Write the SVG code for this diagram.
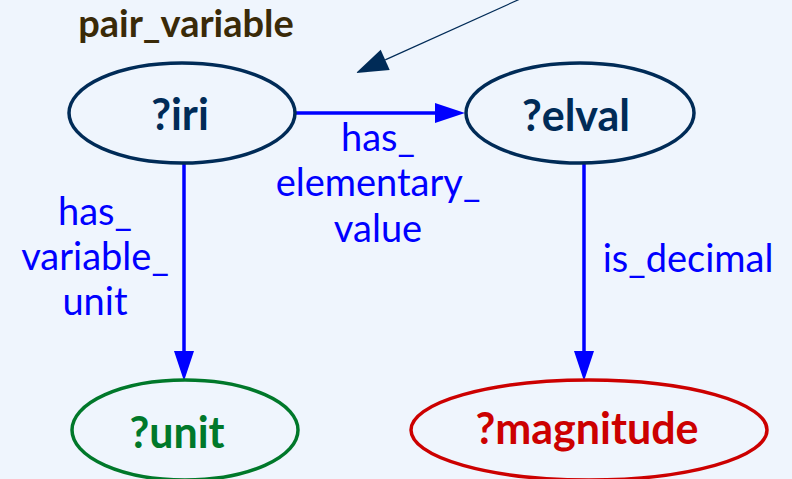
<svg xmlns="http://www.w3.org/2000/svg" width="792" height="479" viewBox="0 0 792 479">
  <style>
    .node-shape { fill: none; stroke-width: 3.5; }
    .node-label { font-family: Lato, "Liberation Sans", sans-serif; font-weight: bold; font-size: 43px; text-anchor: middle; }
    .edge { stroke: #0000ff; stroke-width: 3.5; fill: none; }
    .edge-label { font-family: Lato, "Liberation Sans", sans-serif; font-size: 38px; fill: #0000ff; text-anchor: middle; }
    .title { font-family: Lato, "Liberation Sans", sans-serif; font-weight: bold; font-size: 38px; fill: #3a2a08; text-anchor: middle; }
  </style>
  <defs>
    <marker id="arrow-blue" markerUnits="userSpaceOnUse" markerWidth="30" markerHeight="20" refX="0" refY="10" orient="auto" overflow="visible">
      <path d="M0,0 L30,10 L0,20 z" fill="#0000ff"/>
    </marker>
    <marker id="arrow-navy" markerUnits="userSpaceOnUse" markerWidth="32" markerHeight="22" refX="0" refY="11" orient="auto" overflow="visible">
      <path d="M0,0 L32,11 L0,22 z" fill="#002b57"/>
    </marker>
  </defs>

  <rect width="792" height="479" fill="#eff5fd"/>

  <text class="title" x="186" y="37">pair_variable</text>

  <g id="connectors">
    <line x1="540" y1="-10" x2="385.2" y2="59.9" stroke="#002b57" stroke-width="1.2" marker-end="url(#arrow-navy)"/>
    <line class="edge" x1="295" y1="113" x2="435" y2="113" marker-end="url(#arrow-blue)"/>
    <line class="edge" x1="184" y1="163" x2="184" y2="351" marker-end="url(#arrow-blue)"/>
    <line class="edge" x1="584" y1="163" x2="584" y2="351" marker-end="url(#arrow-blue)"/>
    <text class="edge-label"><tspan x="378" y="151">has_</tspan><tspan x="378" y="196">elementary_</tspan><tspan x="378" y="242">value</tspan></text>
    <text class="edge-label"><tspan x="95" y="225">has_</tspan><tspan x="95" y="270">variable_</tspan><tspan x="95" y="315">unit</tspan></text>
    <text class="edge-label" x="688" y="272">is_decimal</text>
  </g>

  <g id="node-iri">
    <ellipse class="node-shape" cx="182" cy="113" rx="113" ry="50" stroke="#002b57"/>
    <text class="node-label" x="180" y="130" fill="#002b57">?iri</text>
  </g>
  <g id="node-elval">
    <ellipse class="node-shape" cx="580" cy="113" rx="114" ry="50" stroke="#002b57"/>
    <text class="node-label" x="576" y="131" fill="#002b57">?elval</text>
  </g>
  <g id="node-unit">
    <ellipse class="node-shape" cx="185" cy="430" rx="113" ry="50" stroke="#00782a"/>
    <text class="node-label" x="177" y="448" fill="#00782a">?unit</text>
  </g>
  <g id="node-magnitude">
    <ellipse class="node-shape" cx="589" cy="430" rx="178" ry="50" stroke="#cc0000"/>
    <text class="node-label" x="587" y="444" fill="#cc0000">?magnitude</text>
  </g>
</svg>
